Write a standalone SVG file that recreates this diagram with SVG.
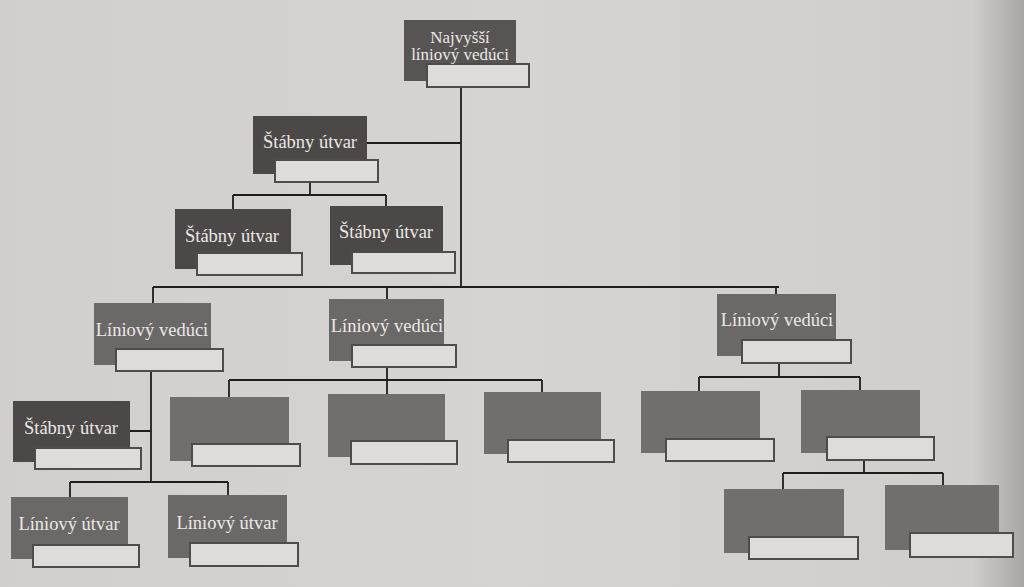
<svg xmlns="http://www.w3.org/2000/svg" width="1024" height="587" viewBox="0 0 1024 587">
<defs>
<linearGradient id="page" x1="0" y1="0" x2="1" y2="0">
<stop offset="0" stop-color="#d1cfcc"/>
<stop offset="0.5" stop-color="#d6d4d1"/>
<stop offset="0.95" stop-color="#d0cecb"/>
<stop offset="1" stop-color="#a8a6a4"/>
</linearGradient>
<style>
.staff{fill:#4c4848}
.top{fill:#585454}
.line{fill:#6b6868}
.blank{fill:#716e6e}
.lab{fill:#dedcd9;stroke:#4e4b4b;stroke-width:2}
.t{font-family:"Liberation Serif","DejaVu Serif",serif;font-size:18.5px;fill:#ebe9e5;text-anchor:middle}
.tt{font-size:17px}
#connectors path{fill:none;stroke:#1e1e1e;stroke-width:1.8}
</style>
</defs>
<rect width="1024" height="587" fill="url(#page)"/>
<g id="connectors">
<path d="M461 87V287M367 143H461"/>
<path d="M310 182V195M233 195H386M233 195V209M386 195V206"/>
<path d="M153 287H779M153 287V303M387 287V299M776 287V294"/>
<path d="M151 371V482M130 431H151M70 482H228M70 482V497M228 482V495"/>
<path d="M387 367V380M229 380H542M229 380V397M387 380V394M542 380V392"/>
<path d="M779 363V377M699 377H860M699 377V391M860 377V390"/>
<path d="M864 460V473M783 473H943M783 473V489M943 473V485"/>
</g>
<g id="n-top">
<rect class="top" x="404" y="20" width="112" height="61"/>
<rect class="lab" x="427" y="64" width="102" height="23"/>
<text class="t tt" x="460" y="43">Najvyšší</text>
<text class="t tt" x="460" y="60">líniový vedúci</text>
</g>
<g id="n-staff1">
<rect class="staff" x="253" y="116" width="114" height="58"/>
<rect class="lab" x="275" y="160" width="103" height="22"/>
<text class="t" x="310" y="148">Štábny útvar</text>
</g>
<g id="n-staff1a">
<rect class="staff" x="175" y="209" width="116" height="60"/>
<rect class="lab" x="197" y="253" width="105" height="22"/>
<text class="t" x="232" y="242">Štábny útvar</text>
</g>
<g id="n-staff1b">
<rect class="staff" x="330" y="206" width="113" height="59"/>
<rect class="lab" x="352" y="252" width="103" height="21"/>
<text class="t" x="386" y="238">Štábny útvar</text>
</g>
<g id="n-lv-left">
<rect class="line" x="94" y="303" width="117" height="62"/>
<rect class="lab" x="116" y="349" width="107" height="22"/>
<text class="t" x="152" y="336">Líniový vedúci</text>
</g>
<g id="n-lv-mid">
<rect class="line" x="329" y="299" width="115" height="62"/>
<rect class="lab" x="352" y="345" width="104" height="22"/>
<text class="t" x="387" y="332">Líniový vedúci</text>
</g>
<g id="n-lv-right">
<rect class="line" x="717" y="294" width="119" height="62"/>
<rect class="lab" x="742" y="340" width="109" height="23"/>
<text class="t" x="777" y="326">Líniový vedúci</text>
</g>
<g id="n-staff2">
<rect class="staff" x="13" y="401" width="117" height="61"/>
<rect class="lab" x="35" y="448" width="106" height="21"/>
<text class="t" x="71" y="434">Štábny útvar</text>
</g>
<g id="n-lu1">
<rect class="line" x="11" y="497" width="117" height="62"/>
<rect class="lab" x="33" y="545" width="106" height="22"/>
<text class="t" x="69" y="530">Líniový útvar</text>
</g>
<g id="n-lu2">
<rect class="line" x="168" y="495" width="119" height="63"/>
<rect class="lab" x="190" y="543" width="108" height="23"/>
<text class="t" x="227" y="529">Líniový útvar</text>
</g>
<g id="n-m1">
<rect class="blank" x="170" y="397" width="119" height="64"/>
<rect class="lab" x="192" y="444" width="108" height="22"/>
</g>
<g id="n-m2">
<rect class="blank" x="328" y="394" width="117" height="63"/>
<rect class="lab" x="351" y="441" width="106" height="23"/>
</g>
<g id="n-m3">
<rect class="blank" x="484" y="392" width="117" height="62"/>
<rect class="lab" x="508" y="440" width="106" height="22"/>
</g>
<g id="n-r1">
<rect class="blank" x="641" y="391" width="119" height="62"/>
<rect class="lab" x="666" y="439" width="108" height="22"/>
</g>
<g id="n-r2">
<rect class="blank" x="801" y="390" width="119" height="63"/>
<rect class="lab" x="827" y="437" width="107" height="23"/>
</g>
<g id="n-r2a">
<rect class="blank" x="724" y="489" width="120" height="64"/>
<rect class="lab" x="749" y="537" width="109" height="22"/>
</g>
<g id="n-r2b">
<rect class="blank" x="885" y="485" width="114" height="65"/>
<rect class="lab" x="910" y="533" width="103" height="24"/>
</g>
</svg>
